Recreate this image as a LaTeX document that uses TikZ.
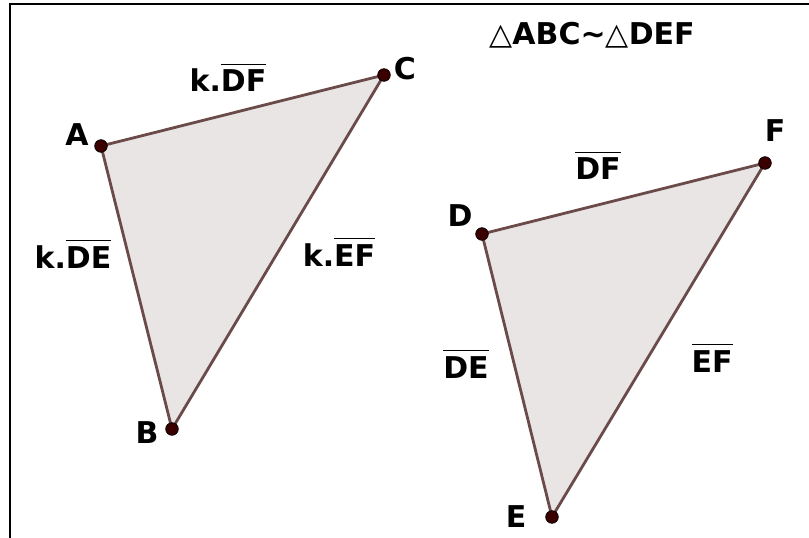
\documentclass[tikz,border=0pt]{standalone}
\usepackage{fontspec}
\setmainfont{DejaVu Sans}
\usepackage{tikz}
\usetikzlibrary{positioning}
\definecolor{edgebrown}{HTML}{6B4A4A}
\definecolor{facegray}{HTML}{E9E5E5}
\definecolor{dotred}{HTML}{3A0000}
\tikzset{
  tri/.style={draw=edgebrown,fill=facegray,line width=2.1pt,line join=round},
  vertex/.style={circle,draw=black,fill=dotred,line width=0.5pt,
                 inner sep=0pt,minimum size=9.5pt},
  ptlabel/.style={anchor=base,inner sep=0pt,
                  font=\fontsize{22.5}{26}\selectfont\bfseries},
  sidelabel/.style={anchor=base,inner sep=0pt,
                    font=\fontsize{22.5}{26}\selectfont\bfseries},
  frameline/.style={draw=black,line width=1.5pt}
}
\newcommand{\seg}[1]{\leavevmode\vbox{\hrule height 0.8pt\kern 3.5pt\hbox{#1}}}

\begin{document}
\begin{tikzpicture}[x=0.75pt,y=-0.75pt]
    \path[use as bounding box] (0,0) rectangle (809,538);
    \coordinate (frmB) at (10,538);
    \coordinate (frmC) at (10,4);
    \coordinate (frmR) at (809,4);
    \draw[frameline] (frmB) -- (frmC) -- (frmR);

    % first triangle
    \coordinate (A) at (101,146);
    \coordinate (B) at (172,429);
    \coordinate (C) at (384,75);
    \path[tri] (A) -- (B) -- (C) -- cycle;
    \node[vertex] (ptA) at (A) {};
    \node[vertex] (ptB) at (B) {};
    \node[vertex] (ptC) at (C) {};
    \node[ptlabel] (labA) at (77,146) {A};
    \node[ptlabel] (labB) at (147,443) {B};
    \node[ptlabel] (labC) at (405,80) {C};
    \node[sidelabel] (kDF) at (228,92) {k.\seg{DF}};
    \node[sidelabel] (kDE) at (73,268) {k.\seg{DE}};
    \node[sidelabel] (kEF) at (339,266) {k.\seg{EF}};

    % second triangle
    \coordinate (D) at (482,234);
    \coordinate (E) at (552,517);
    \coordinate (F) at (765,163);
    \path[tri] (D) -- (E) -- (F) -- cycle;
    \node[vertex] (ptD) at (D) {};
    \node[vertex] (ptE) at (E) {};
    \node[vertex] (ptF) at (F) {};
    \node[ptlabel] (labD) at (460,226) {D};
    \node[ptlabel] (labE) at (516,527) {E};
    \node[ptlabel] (labF) at (775,142) {F};
    \node[sidelabel] (DF) at (598,180) {\seg{DF}};
    \node[sidelabel] (DE) at (466,378) {\seg{DE}};
    \node[sidelabel] (EF) at (712,372) {\seg{EF}};

    \node[sidelabel] (title) at (592,45)
      {{\mdseries △}ABC\textasciitilde{\mdseries △}DEF};
  \end{tikzpicture}
\end{document}
